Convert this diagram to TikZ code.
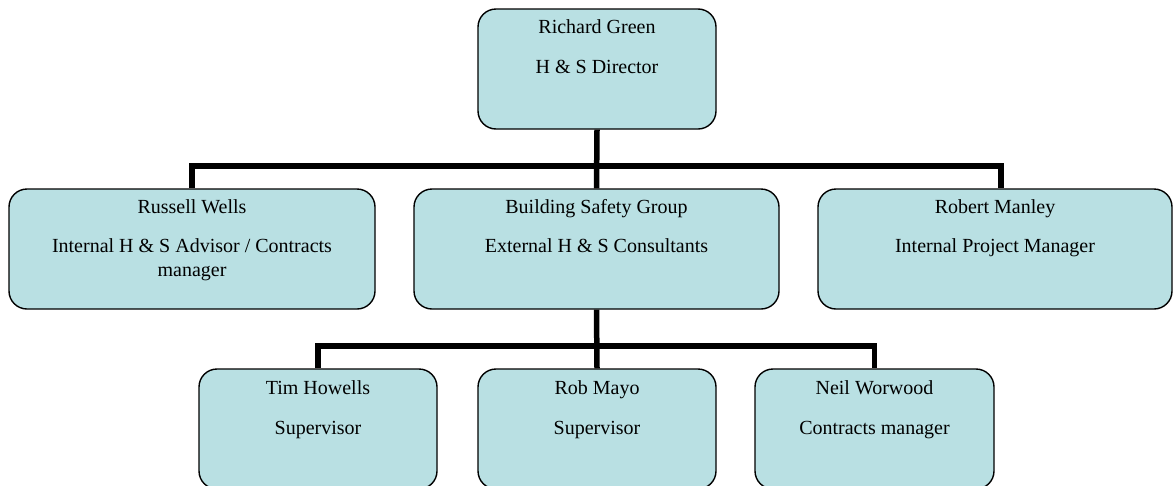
\documentclass[tikz,border=0pt]{standalone}
\usepackage{fontspec}
\setmainfont{Liberation Serif}
\definecolor{boxfill}{HTML}{B9E0E3}
\begin{document}
\begin{tikzpicture}[x=1pt,y=-1pt,
  box/.style={draw=black, line width=1.4pt, fill=boxfill, rounded corners=18pt,
              inner sep=0pt, minimum height=120pt},
  conn/.style={line width=5.5pt, black, line join=miter},
  txt/.style={anchor=base, inner sep=0pt, font=\fontsize{20}{24}\selectfont}]
\useasboundingbox (0,0) rectangle (1174,485);
\clip (0,0) rectangle (1174,485);
% boxes
\node[box, minimum width=238pt] (rg)  at (597,69)    {};
\node[box, minimum width=366pt] (rw)  at (192,249)   {};
\node[box, minimum width=365pt] (bsg) at (596.5,249) {};
\node[box, minimum width=354pt] (rm)  at (995,249)   {};
\node[box, minimum width=238pt] (th)  at (318,429)   {};
\node[box, minimum width=238pt] (rob) at (597,429)   {};
\node[box, minimum width=239pt] (nw)  at (874.5,429) {};
% texts
\node[txt] (rg1) at ([yshift=-25pt]rg.north) {Richard Green};
\node[txt] (rg2) at ([yshift=-65pt]rg.north) {H \& S Director};
\node[txt] (rw1) at ([yshift=-25pt]rw.north) {Russell Wells};
\node[txt] (rw2) at ([yshift=-64pt]rw.north) {Internal H \& S Advisor / Contracts};
\node[txt] (rw3) at ([yshift=-88pt]rw.north) {manager};
\node[txt] (bs1) at ([yshift=-25pt]bsg.north) {Building Safety Group};
\node[txt] (bs2) at ([yshift=-64pt]bsg.north) {External H \& S Consultants};
\node[txt] (rm1) at ([yshift=-25pt]rm.north) {Robert Manley};
\node[txt] (rm2) at ([yshift=-64pt]rm.north) {Internal Project Manager};
\node[txt] (th1) at ([yshift=-26pt]th.north) {Tim Howells};
\node[txt] (th2) at ([yshift=-66pt]th.north) {Supervisor};
\node[txt] (ro1) at ([yshift=-26pt]rob.north) {Rob Mayo};
\node[txt] (ro2) at ([yshift=-66pt]rob.north) {Supervisor};
\node[txt] (nw1) at ([yshift=-26pt]nw.north) {Neil Worwood};
\node[txt] (nw2) at ([yshift=-66pt]nw.north) {Contracts manager};
% connectors
\coordinate (j1) at (597,166);
\coordinate (j2) at (597,346);
\draw[conn] (rg.south) -- (bsg.north);
\draw[conn] (rw.north) |- (j1) -| ([xshift=6pt]rm.north);
\draw[conn] (bsg.south) -- (rob.north);
\draw[conn] (th.north) |- (j2) -| (nw.north);
\end{tikzpicture}
\end{document}
